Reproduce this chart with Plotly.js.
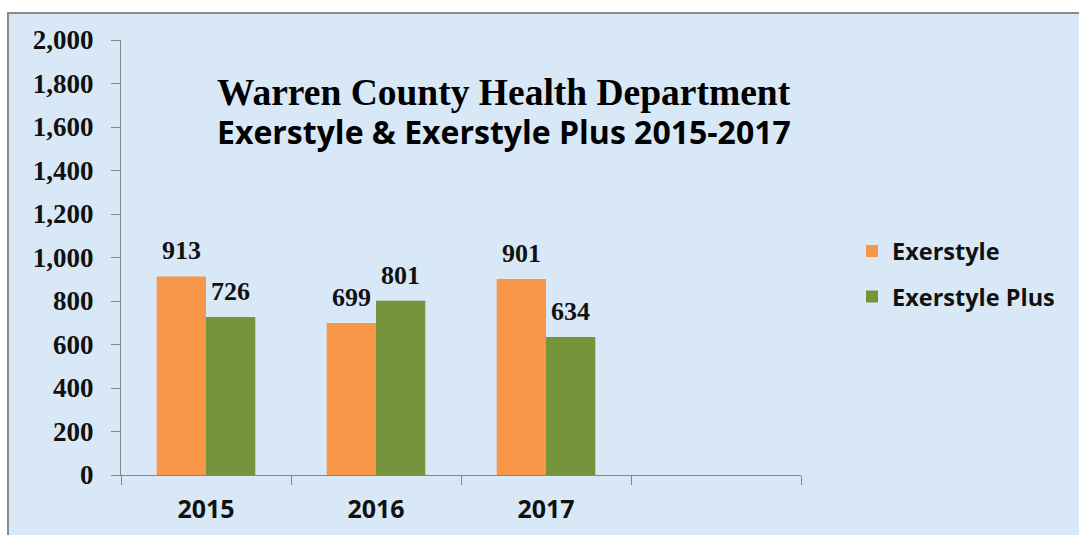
<!DOCTYPE html>
<html>
<head>
<meta charset="utf-8">
<script src="https://cdn.plot.ly/plotly-3.0.1.min.js"></script>
<style>
  html, body { margin: 0; padding: 0; background: #ffffff; width: 1079px; height: 535px; overflow: hidden; }
  #frame { position: absolute; left: 7px; top: 12px; width: 1072px; height: 523px;
           border-top: 2px solid #8a8a8a; border-left: 2px solid #8a8a8a; box-sizing: border-box;
           background: #d9e8f6; }
  #chart { position: absolute; left: 0; top: 0; width: 1070px; height: 521px; }
</style>
</head>
<body>
<div id="frame"><div id="chart"></div></div>
<script>
// ---- data ----
const categories = ['2015', '2016', '2017', ' '];
const exerstyle = [913, 699, 901, null];
const exerstylePlus = [726, 801, 634, null];
const seriesNames = ['Exerstyle', 'Exerstyle Plus'];
const yTickVals = [0, 200, 400, 600, 800, 1000, 1200, 1400, 1600, 1800, 2000];
const yTickText = ['0', '200', '400', '600', '800', '1,000', '1,200', '1,400', '1,600', '1,800', '2,000'];
const titleLine1 = 'Warren County Health Department';
const titleLine2 = 'Exerstyle &amp; Exerstyle Plus 2015-2017';

const ORANGE = '#F79646';
const GREEN = '#77933C';
const SERIF = 'Liberation Serif, Times New Roman, serif';
const SANS = 'Open Sans, Noto Sans, sans-serif';

const traces = [
  { type: 'bar', name: seriesNames[0], x: categories, y: exerstyle, marker: { color: ORANGE },
    legendgroup: 'a', hoverinfo: 'skip' },
  { type: 'bar', name: seriesNames[1], x: categories, y: exerstylePlus, marker: { color: GREEN },
    legendgroup: 'b', hoverinfo: 'skip' }
];

// value labels above bars (x given as category index)
const annotations = [];
const seriesVals = [exerstyle, exerstylePlus];
seriesVals.forEach((vals, si) => {
  vals.forEach((v, i) => {
    if (v === null) return;
    annotations.push({
      x: i, y: v, xref: 'x', yref: 'y',
      text: '<b>' + String(v) + '</b>', showarrow: false,
      xshift: si === 0 ? -24.5 : 24.5, yshift: 9, yanchor: 'bottom', xanchor: 'center',
      font: { family: SERIF, size: 26, color: '#111111' }
    });
  });
});
annotations.push({
  x: 0.563, y: 0.88, xref: 'paper', yref: 'paper', text: '<b>' + titleLine1 + '</b>',
  showarrow: false, xanchor: 'center', yanchor: 'middle',
  font: { family: SERIF, size: 37.5, color: '#000000' }
});
annotations.push({
  x: 0.563, y: 0.789, xref: 'paper', yref: 'paper', text: '<b>' + titleLine2 + '</b>',
  showarrow: false, xanchor: 'center', yanchor: 'middle',
  font: { family: SANS, size: 32, color: '#000000' }
});

const layout = {
  width: 1070, height: 521,
  margin: { l: 112, r: 278, t: 26, b: 60, pad: 0 },
  paper_bgcolor: 'rgba(0,0,0,0)',
  plot_bgcolor: 'rgba(0,0,0,0)',
  barmode: 'group', bargap: 0.42, bargroupgap: 0,
  showlegend: true,
  legend: {
    x: 1.075, y: 0.565, xanchor: 'left', yanchor: 'top',
    bgcolor: 'rgba(0,0,0,0)', borderwidth: 0,
    traceorder: 'grouped', tracegroupgap: 12,
    font: { family: SANS, size: 23.5, color: '#111111', weight: 'bold' }
  },
  xaxis: {
    type: 'category', categoryorder: 'array', categoryarray: categories,
    range: [-0.5, 3.5], fixedrange: true,
    showline: true, linecolor: '#868686', linewidth: 1,
    ticks: 'outside', ticklen: 9, tickcolor: '#868686', tickson: 'boundaries',
    showgrid: false, zeroline: false, ticklabelstandoff: 12,
    tickfont: { family: SANS, size: 25, color: '#111111', weight: 'bold' }
  },
  yaxis: {
    range: [0, 2000], fixedrange: true,
    tickvals: yTickVals, ticktext: yTickText,
    showline: true, linecolor: '#868686', linewidth: 1,
    ticks: 'outside', ticklen: 9, tickcolor: '#868686',
    showgrid: false, zeroline: false, ticklabelstandoff: 12,
    tickfont: { family: SERIF, size: 27, color: '#111111', weight: 'bold' }
  },
  annotations: annotations
};

Plotly.newPlot('chart', traces, layout, { staticPlot: true, displayModeBar: false });
</script>
</body>
</html>
